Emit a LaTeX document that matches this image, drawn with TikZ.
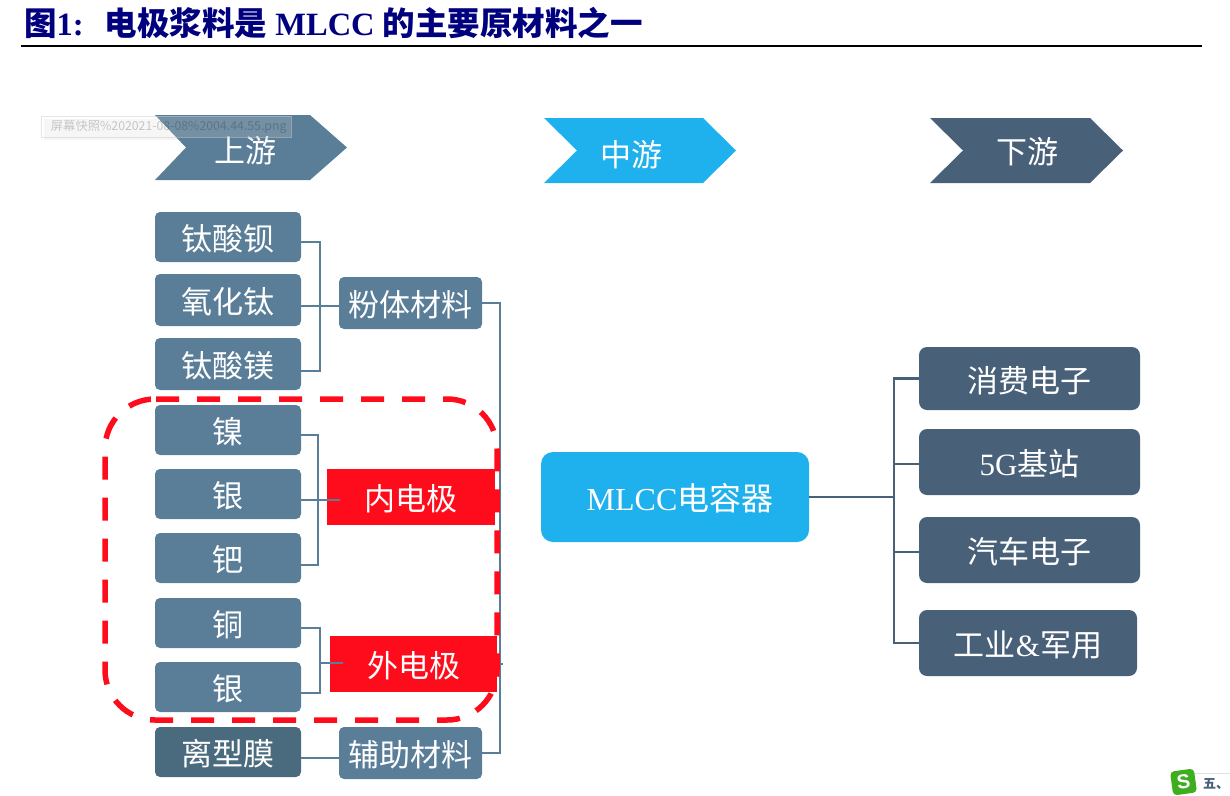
\documentclass[tikz,border=0pt]{standalone}
\usepackage{fontspec}
\setmainfont{Liberation Serif}
\setsansfont{Liberation Sans}
\newfontfamily\cjk{Noto Sans CJK SC}
\usetikzlibrary{positioning}
\usetikzlibrary{shadows}
\definecolor{upblue}{HTML}{5A7D98}
\definecolor{midblue}{HTML}{1FB0EE}
\definecolor{downblue}{HTML}{496079}
\definecolor{filmblue}{HTML}{4A6A7E}
\definecolor{alertred}{HTML}{FF0C1C}
\definecolor{titlenavy}{HTML}{00007F}
\definecolor{logogreen}{HTML}{3DAE1E}
\tikzset{
	box/.style={rounded corners=5, minimum width=146, minimum height=50, inner sep=0, text height=30, text depth=2.4, text=white, font=\cjk\fontsize{31}{31}\selectfont},
	upbox/.style={box, fill=upblue},
	sumbox/.style={upbox, minimum width=143, minimum height=52},
	redbox/.style={box, rounded corners=0, fill=alertred, minimum width=168, minimum height=56},
	downbox/.style={box, fill=downblue, rounded corners=8, minimum width=221, minimum height=65},
	wire/.style={draw=upblue, line width=2.6},
	downwire/.style={draw=downblue, line width=2.8},
	chevron/.style={inner sep=0, text=white, font=\cjk\fontsize{31}{31}\selectfont}
}
\begin{document}
\begin{tikzpicture}[x=1pt, y=-1pt]
	\useasboundingbox (0, 0) rectangle (1230, 795);
	% title
	\node[anchor=west, inner sep=0, text=titlenavy, font=\bfseries\fontsize{32.5}{32.5}\selectfont] (title) at (24, 23)
		{{\cjk 图}1:\hspace{21pt}{\cjk 电极浆料是} MLCC {\cjk 的主要原材料之一}};
	\coordinate (ruleL) at (21, 46);
	\coordinate (ruleR) at (1202, 46);
	\draw[line width=2] (ruleL) to (ruleR);
	% headers
	\fill[upblue] (155, 115) to (310, 115) to (347, 147.5) to (310, 180) to (155, 180) to (186, 147.5) to cycle;
	\fill[midblue] (544, 118) to (703, 118) to (736, 150.5) to (703, 183) to (544, 183) to (577, 150.5) to cycle;
	\fill[downblue] (930, 118) to (1090, 118) to (1123, 150.5) to (1090, 183) to (930, 183) to (963, 150.5) to cycle;
	\node[chevron] (up) at (245, 151) {上游};
	\node[chevron] (mid) at (631, 155) {中游};
	\node[chevron] (down) at (1027, 152) {下游};
	% upstream materials
	\node[upbox] (tiba) at (228, 237) {钛酸钡};
	\node[upbox, minimum height=52] (tiox) at (228, 300) {氧化钛};
	\node[upbox, minimum height=52] (timg) at (228, 364) {钛酸镁};
	\node[upbox] (ni) at (228, 430) {镍};
	\node[upbox] (agin) at (228, 494) {银};
	\node[upbox] (pd) at (228, 558) {钯};
	\node[upbox] (cu) at (228, 623) {铜};
	\node[upbox] (agout) at (228, 687) {银};
	\node[upbox, fill=filmblue] (film) at (228, 752) {离型膜};
	\node[sumbox] (powder) at (410.5, 303) {粉体材料};
	\node[redbox] (inner) at (411, 497) {内电极};
	\node[redbox, minimum width=167] (outer) at (413.5, 664) {外电极};
	\node[sumbox] (aux) at (410.5, 753) {辅助材料};
	% midstream and downstream
	\node[box, fill=midblue, rounded corners=12, minimum width=268, minimum height=90, font=\cjk\fontsize{32}{32}\selectfont] (mlcc) at (675, 497) {\hspace{10pt}{\rmfamily MLCC}电容器};
	\node[downbox, minimum height=63] (cons) at (1029.5, 378.5) {消费电子};
	\node[downbox, minimum height=66] (base) at (1029.5, 462) {{\rmfamily 5G}基站};
	\node[downbox, minimum height=66] (auto) at (1029.5, 550) {汽车电子};
	\node[downbox, minimum width=218, minimum height=66] (ind) at (1028, 643) {工业{\rmfamily\&}军用};
	% brackets
	\coordinate (busA) at (320, 306);
	\coordinate (busB) at (318, 500);
	\coordinate (busC) at (320, 663);
	\coordinate (trunk) at (500, 500);
	\coordinate (hub) at (894, 497);
	\draw[wire] ([yshift=-5]tiba.east) -| (busA) |- ([yshift=-7]timg.east);
	\draw[wire] ([yshift=-6]tiox.east) to ([yshift=-6]powder.west |- tiox.east);
	\draw[wire] ([yshift=-5]ni.east) -| (busB) |- ([yshift=-7]pd.east);
	\draw[wire] ([yshift=-6]agin.east) to (340, 500);
	\draw[wire] ([yshift=-5]cu.east) -| (busC) |- ([yshift=-6]agout.east);
	\draw[wire] (busC) to (343, 663);
	\draw[wire] ([yshift=-6]film.east) to ([yshift=-5]aux.west);
	\draw[wire] (powder.east) -| (trunk) |- (aux.east);
	\draw[wire] (inner.east) to (trunk |- inner.east);
	\draw[wire] (outer.east) to (503, 664);
	\draw[downwire] (mlcc.east) to (hub);
	\draw[downwire] (cons.west) -| (hub) |- ([yshift=-2]base.west);
	\draw[downwire] (hub) |- ([yshift=-2]auto.west);
	\draw[downwire] (hub) |- (ind.west);
	% red dashed zone
	\draw[alertred, line width=5.5, dash pattern=on 23 off 18, rounded corners=50] (156, 399) to (497, 399) to (497, 720) to (105, 720) to (105, 399) to (156, 399);
	% screenshot tooltip
	\node[anchor=west, draw=black!20, draw opacity=0.5, fill=white, fill opacity=0.15, text opacity=0.2, text=black, inner sep=0, minimum width=250, minimum height=21, drop shadow={opacity=0.08, shadow xshift=3pt, shadow yshift=-3pt}, font=\cjk\fontsize{12.3}{13}\selectfont] (tip) at (41, 126.5)
		{\hspace{5pt}屏幕快照\%202021-08-08\%2004.44.55.png};
	% corner badge
	\coordinate (barL) at (1190, 773);
	\coordinate (barR) at (1230, 773);
	\draw[black!12] (barL) to (barR);
	\node[fill=logogreen, rounded corners=4, rotate=8, minimum size=24, inner sep=0, text=white, font=\sffamily\bfseries\fontsize{20}{20}\selectfont] (logo) at (1183.5, 782) {S};
	\node[anchor=west, inner sep=0, text=downblue, font=\cjk\bfseries\fontsize{13}{13}\selectfont] (badge) at (1203, 784) {五、};
\end{tikzpicture}
\end{document}
